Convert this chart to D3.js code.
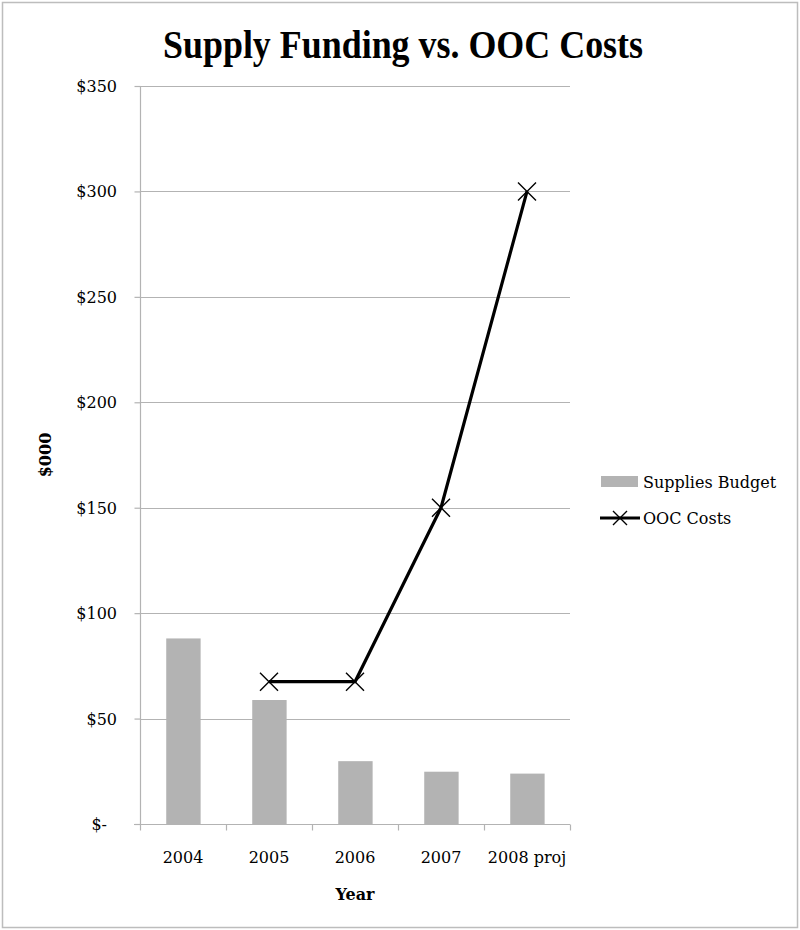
<!DOCTYPE html>
<html><head><meta charset="utf-8">
<script src="https://cdn.jsdelivr.net/npm/d3@7"></script>
<style>body{margin:0;background:#fff}svg{display:block}text{font-family:"DejaVu Serif",serif;fill:#000}</style>
</head><body>
<svg id="c" width="800" height="930"></svg>
<script>
const categories = ["2004","2005","2006","2007","2008 proj"];
const suppliesBudget = [88, 58.8, 29.8, 24.8, 23.9];
const oocCosts = [null, 67.5, 67.5, 150, 300];
const yTicks = [0,50,100,150,200,250,300,350];
const yTickLabels = ["$-","$50","$100","$150","$200","$250","$300","$350"];
const title = "Supply Funding vs. OOC Costs";
const seriesNames = ["Supplies Budget","OOC Costs"];

const svg = d3.select("#c");
svg.append("rect").attr("x",2.5).attr("y",2.5).attr("width",795).attr("height",925)
  .attr("fill","#fff").attr("stroke","#bdbdbd").attr("stroke-width",1.5);

const x = d3.scaleBand().domain(categories).range([140,570]).paddingInner(0).paddingOuter(0);
const y = d3.scaleLinear().domain([0,350]).range([824,86]);

// gridlines
svg.append("g").selectAll("line").data(yTicks.slice(1)).join("line")
  .attr("x1",140).attr("x2",570).attr("y1",d=>Math.round(y(d))+0.5).attr("y2",d=>Math.round(y(d))+0.5)
  .attr("stroke","#b3b3b3").attr("stroke-width",1.2);

// bars
const bw = x.bandwidth()*0.40;
svg.append("g").selectAll("rect").data(suppliesBudget).join("rect")
  .attr("x",(d,i)=>x(categories[i])+x.bandwidth()*0.305)
  .attr("y",d=>y(d)).attr("width",bw).attr("height",d=>y(0)-y(d))
  .attr("fill","#b3b3b3");

// y axis
const yAxis = d3.axisLeft(y).tickValues(yTicks).tickSize(6).tickFormat(()=>"");
const ga = svg.append("g").attr("transform","translate(140.5,0)").call(yAxis);
ga.select(".domain").attr("stroke","#b3b3b3").attr("stroke-width",1.2).attr("d","M0,86V824");
ga.selectAll(".tick line").attr("stroke","#b3b3b3").attr("stroke-width",1.2);
svg.append("g").selectAll("text").data(yTicks).join("text")
  .attr("x",(d,i)=>i===0?107:117).attr("y",d=>y(d)+6).attr("text-anchor","end")
  .attr("font-size",16).text((d,i)=>yTickLabels[i]);

// x axis
const xb = d3.scaleLinear().domain([0,5]).range([140,570]);
const gx = svg.append("g").attr("transform","translate(0,824.5)");
gx.append("line").attr("x1",134).attr("x2",570).attr("stroke","#b3b3b3").attr("stroke-width",1.2);
gx.selectAll("line.t").data(d3.range(6)).join("line").attr("class","t")
  .attr("x1",d=>Math.round(xb(d))+0.5).attr("x2",d=>Math.round(xb(d))+0.5).attr("y1",0).attr("y2",6)
  .attr("stroke","#b3b3b3").attr("stroke-width",1.2);
svg.append("g").selectAll("text").data(categories).join("text")
  .attr("x",d=>x(d)+x.bandwidth()/2).attr("y",863).attr("text-anchor","middle")
  .attr("font-size",16).text(d=>d);

// line
const pts = oocCosts.map((v,i)=>({c:categories[i],v})).filter(d=>d.v!==null);
const line = d3.line().x(d=>x(d.c)+x.bandwidth()/2).y(d=>y(d.v));
svg.append("path").datum(pts).attr("d",line).attr("fill","none").attr("stroke","#000").attr("stroke-width",3.2).attr("stroke-linejoin","round");
const ms = 9;
svg.append("g").selectAll("path").data(pts).join("path")
  .attr("d",d=>{const cx=x(d.c)+x.bandwidth()/2, cy=y(d.v);return `M${cx-ms},${cy-ms}L${cx+ms},${cy+ms}M${cx-ms},${cy+ms}L${cx+ms},${cy-ms}`;})
  .attr("stroke","#000").attr("stroke-width",1.4);

// titles
svg.append("text").attr("x",403).attr("y",58).attr("text-anchor","middle").attr("font-size",40)
  .attr("font-weight","bold").style("font-family","'Liberation Serif',serif")
  .attr("textLength",480).attr("lengthAdjust","spacingAndGlyphs").text(title);
svg.append("text").attr("x",355).attr("y",900).attr("text-anchor","middle").attr("font-size",16).attr("font-weight","bold").text("Year");
svg.append("text").attr("transform","translate(51,455) rotate(-90)").attr("text-anchor","middle").attr("font-size",16).attr("font-weight","bold").text("$000");

// legend
const lg = svg.append("g");
lg.append("rect").attr("x",601).attr("y",476).attr("width",37).attr("height",11).attr("fill","#b3b3b3");
lg.append("text").attr("x",643).attr("y",488).attr("font-size",16).text(seriesNames[0]);
lg.append("line").attr("x1",600).attr("x2",640).attr("y1",518).attr("y2",518).attr("stroke","#000").attr("stroke-width",3.2);
lg.append("path").attr("d",`M${620-7},${518-7}L${620+7},${518+7}M${620-7},${518+7}L${620+7},${518-7}`).attr("stroke","#000").attr("stroke-width",1.4);
lg.append("text").attr("x",643).attr("y",524).attr("font-size",16).text(seriesNames[1]);
</script>
</body></html>
